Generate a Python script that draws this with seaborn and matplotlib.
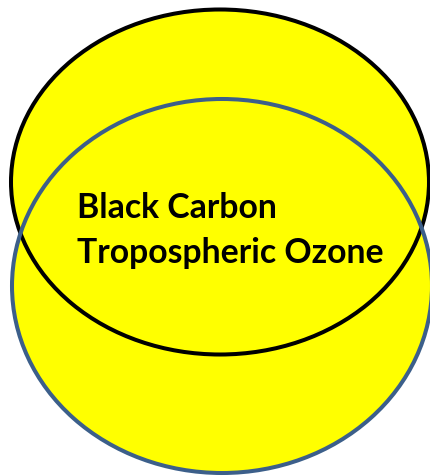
import matplotlib
matplotlib.use("Agg")
import matplotlib.pyplot as plt
from matplotlib.patches import Ellipse
import seaborn as sns

sns.set_style("white")
plt.rcParams['font.family'] = ['Lato', 'DejaVu Sans']

# Data: ellipse geometry in pixel space (center x, center y, width, height)
circle_names = ["outer_black", "lower_blue"]
centers_x = [220, 222]
centers_y = [182, 286]
widths = [418, 420]
heights = [345, 374]
edge_colors = ["#000000", "#3C5F8A"]
labels = ["Black Carbon", "Tropospheric Ozone"]

W, H = 431, 476
fig = plt.figure(figsize=(W / 100, H / 100), dpi=100)
ax = fig.add_axes([0, 0, 1, 1])
ax.set_xlim(0, W)
ax.set_ylim(H, 0)
ax.axis("off")

# fills
for cx, cy, w, h in zip(centers_x, centers_y, widths, heights):
    ax.add_patch(Ellipse((cx, cy), w, h, facecolor="#FFFF00", edgecolor="none", zorder=1))
# outlines
for i, (cx, cy, w, h, ec) in enumerate(zip(centers_x, centers_y, widths, heights, edge_colors)):
    ax.add_patch(Ellipse((cx, cy), w, h, facecolor="none", edgecolor=ec, linewidth=2.9, zorder=2 + i))

baselines = [218, 263]
for lab, yb in zip(labels, baselines):
    ax.text(77, yb, lab, ha="left", va="baseline", fontsize=24.3, fontweight="bold",
            color="black", zorder=5)

fig.savefig("out.png", dpi=100)
